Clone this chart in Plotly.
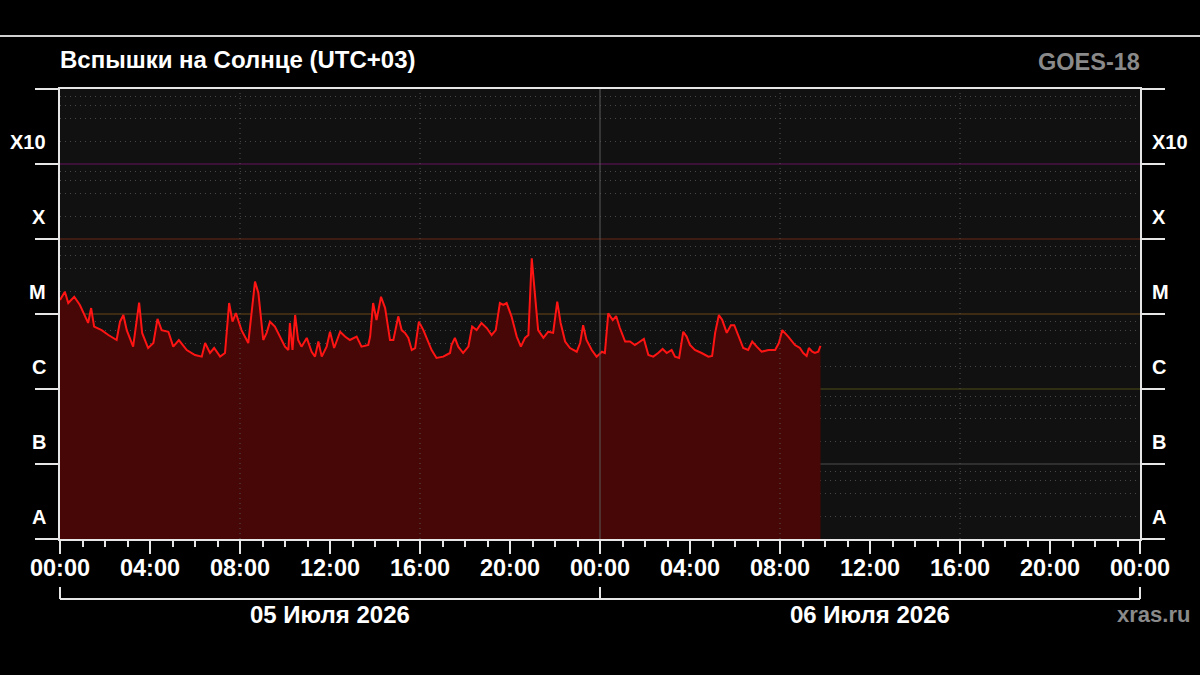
import plotly.graph_objects as go
import pandas as pd

# ---------------- data ----------------
DAY1 = "2026-07-05"
DAY2 = "2026-07-06"

times_day1 = ["00:00", "00:13", "00:22", "00:38", "00:53", "01:15", "01:23", "01:31", "01:51", "02:09",
              "02:31", "02:40", "02:49", "02:58", "03:15", "03:31", "03:39", "03:55", "04:09", "04:20",
              "04:31", "04:49", "05:02", "05:17", "05:38", "06:00", "06:18", "06:27", "06:40", "06:51",
              "07:07", "07:20", "07:31", "07:40", "07:49", "08:04", "08:22", "08:31", "08:40", "08:49",
              "09:02", "09:11", "09:20", "09:33", "09:47", "10:00", "10:09", "10:13", "10:20", "10:27",
              "10:35", "10:44", "10:58", "11:11", "11:20", "11:29", "11:38", "11:51", "12:00", "12:11",
              "12:27", "12:40", "12:53", "13:11", "13:24", "13:42", "13:47", "13:55", "14:04", "14:16",
              "14:27", "14:40", "14:49", "15:02", "15:11", "15:20", "15:29", "15:38", "15:47", "15:57",
              "16:09", "16:22", "16:31", "16:44", "17:02", "17:20", "17:24", "17:33", "17:42", "17:55",
              "18:09", "18:19", "18:31", "18:44", "18:58", "19:11", "19:22", "19:33", "19:42", "19:51",
              "20:04", "20:18", "20:29", "20:40", "20:49", "20:58", "21:07", "21:15", "21:29", "21:42",
              "21:55", "22:06", "22:15", "22:27", "22:40", "22:58", "23:07", "23:15", "23:24", "23:38",
              "23:51"]
flux_day1 = [1.54e-5, 1.98e-5, 1.40e-5, 1.70e-5, 1.32e-5, 7.6e-6, 1.20e-5, 6.8e-6, 6.1e-6, 5.25e-6,
             4.5e-6, 7.9e-6, 9.7e-6, 6.1e-6, 3.67e-6, 1.42e-5, 5.6e-6, 3.52e-6, 4.1e-6, 8.6e-6,
             6.1e-6, 5.8e-6, 3.67e-6, 4.5e-6, 3.31e-6, 2.84e-6, 2.70e-6, 4.1e-6, 3.02e-6, 3.52e-6,
             2.70e-6, 3.02e-6, 1.40e-5, 7.9e-6, 1.03e-5, 6.1e-6, 4.1e-6, 1.13e-5, 2.70e-5, 1.91e-5,
             4.5e-6, 5.6e-6, 7.9e-6, 6.8e-6, 5.0e-6, 3.67e-6, 3.31e-6, 7.6e-6, 3.31e-6, 9.7e-6,
             4.5e-6, 3.67e-6, 4.8e-6, 3.14e-6, 2.70e-6, 4.3e-6, 2.70e-6, 3.67e-6, 5.8e-6, 3.52e-6,
             5.8e-6, 5.0e-6, 4.5e-6, 5.0e-6, 3.67e-6, 3.86e-6, 5.0e-6, 1.40e-5, 8.3e-6, 1.70e-5,
             1.20e-5, 4.5e-6, 4.5e-6, 9.3e-6, 6.1e-6, 5.6e-6, 4.8e-6, 3.31e-6, 3.52e-6, 7.9e-6,
             6.1e-6, 4.1e-6, 3.31e-6, 2.59e-6, 2.70e-6, 3.02e-6, 3.86e-6, 4.8e-6, 3.67e-6, 3.02e-6,
             3.67e-6, 6.8e-6, 6.1e-6, 7.6e-6, 6.5e-6, 5.25e-6, 6.1e-6, 1.40e-5, 1.32e-5, 1.40e-5,
             9.3e-6, 5.0e-6, 3.67e-6, 4.8e-6, 5.25e-6, 5.53e-5, 1.91e-5, 6.1e-6, 4.8e-6, 5.8e-6,
             5.6e-6, 1.46e-5, 7.6e-6, 4.3e-6, 3.52e-6, 3.14e-6, 4.1e-6, 7.1e-6, 4.5e-6, 3.31e-6,
             2.70e-6]

times_day2 = ["00:05", "00:13", "00:22", "00:34", "00:43", "00:53", "01:07", "01:20", "01:33", "01:47",
              "01:57", "02:09", "02:22", "02:35", "02:47", "02:58", "03:11", "03:20", "03:31", "03:42",
              "03:51", "04:00", "04:13", "04:31", "04:49", "04:59", "05:07", "05:17", "05:26", "05:38",
              "05:49", "05:58", "06:09", "06:22", "06:35", "06:46", "06:58", "07:11", "07:29", "07:47",
              "07:57", "08:06", "08:22", "08:40", "08:53", "09:02", "09:11", "09:17", "09:26", "09:33",
              "09:42", "09:48"]
flux_day2 = [3.14e-6, 3.02e-6, 1.02e-5, 8.3e-6, 9.4e-6, 6.5e-6, 4.3e-6, 4.3e-6, 3.86e-6, 4.3e-6,
             4.65e-6, 2.84e-6, 2.70e-6, 3.02e-6, 3.42e-6, 3.02e-6, 3.31e-6, 2.70e-6, 2.59e-6, 5.8e-6,
             5.0e-6, 3.86e-6, 3.31e-6, 3.02e-6, 2.70e-6, 2.76e-6, 5.6e-6, 9.7e-6, 8.3e-6, 5.6e-6,
             7.1e-6, 7.1e-6, 5.0e-6, 3.52e-6, 3.31e-6, 4.3e-6, 3.67e-6, 3.14e-6, 3.31e-6, 3.31e-6,
             4.1e-6, 6.1e-6, 5.0e-6, 3.86e-6, 3.52e-6, 3.02e-6, 2.76e-6, 3.52e-6, 3.14e-6, 3.02e-6,
             3.14e-6, 3.75e-6]

class_labels = ["A", "B", "C", "M", "X", "X10"]
class_decades = [-8, -7, -6, -5, -4, -3]          # log10 of the lower bound of each class
class_line_colors = ["#3a3a3a", "#3a3a16", "#4c3416", "#4c2016", "#4a1244"]  # at 1e-7 .. 1e-3
date_labels = ["05 Июля 2026", "06 Июля 2026"]
title_text = "Вспышки на Солнце (UTC+03)"
satellite_text = "GOES-18"
source_text = "xras.ru"

# ---------------- figure ----------------
x = [f"{DAY1} {t}" for t in times_day1] + [f"{DAY2} {t}" for t in times_day2]
y = flux_day1 + flux_day2

FONT = "Liberation Sans, Arial, sans-serif"
LINE_COL = "#e6e6e6"
DOT = "1px,4px"

fig = go.Figure()
fig.add_trace(go.Scatter(
    x=x, y=y, mode="lines", fill="tozeroy",
    fillcolor="rgb(72,7,7)",
    line=dict(color="#ff1414", width=2),
    hoverinfo="skip", showlegend=False,
))

x_start = pd.Timestamp(DAY1)
x_end = x_start + pd.Timedelta(days=2)
major = pd.date_range(x_start, x_end, freq="4h")

fig.update_layout(
    width=1200, height=675,
    margin=dict(l=60, r=60, t=89, b=136),
    paper_bgcolor="black", plot_bgcolor="#111111",
    showlegend=False,
    xaxis=dict(
        type="date", range=[x_start, x_end],
        tickvals=list(major), ticktext=[d.strftime("%H:%M") for d in major],
        ticks="outside", ticklen=13, tickwidth=2, tickcolor=LINE_COL,
        ticklabelstandoff=-6,
        tickfont=dict(family=FONT, size=23.5, color="white", weight="bold"),
        minor=dict(dtick=3600000, ticks="outside", ticklen=6, tickwidth=2,
                   tickcolor=LINE_COL, showgrid=False),
        showgrid=False, showline=True, linecolor=LINE_COL, linewidth=2, mirror=True,
        zeroline=False, fixedrange=True,
    ),
    yaxis=dict(
        type="log", range=[-8, -2],
        tickvals=[m * 10.0 ** d for d in class_decades for m in (2, 4, 6, 8)],
        showticklabels=False, ticks="",
        showgrid=True, gridcolor="#474747", griddash=DOT, gridwidth=1,
        showline=True, linecolor=LINE_COL, linewidth=2, mirror=True,
        zeroline=False, fixedrange=True,
    ),
)

ext = 25 / 1080.0   # short outer tick length in paper units
shapes = []
# vertical grid every 8 hours (solid at midnight, dotted otherwise)
for d in pd.date_range(x_start, x_end, freq="8h")[1:-1]:
    if d.hour == 0:
        shapes.append(dict(type="line", xref="x", yref="paper", x0=d, x1=d, y0=0, y1=1,
                           line=dict(color="#5a5a5a", width=1)))
    else:
        shapes.append(dict(type="line", xref="x", yref="paper", x0=d, x1=d, y0=0, y1=1,
                           line=dict(color="#555555", width=1, dash=DOT)))
# class boundary lines
n_dec = len(class_decades)
for i, col in enumerate(class_line_colors, start=1):
    py = i / n_dec
    shapes.append(dict(type="line", xref="paper", yref="paper", x0=0, x1=1, y0=py, y1=py,
                       line=dict(color=col, width=1.5), layer="below"))
# outer tick extensions on both sides
for i in range(0, n_dec + 1):
    py = i / n_dec
    shapes.append(dict(type="line", xref="paper", yref="paper", x0=-ext, x1=0, y0=py, y1=py,
                       line=dict(color=LINE_COL, width=2)))
    shapes.append(dict(type="line", xref="paper", yref="paper", x0=1, x1=1 + ext, y0=py, y1=py,
                       line=dict(color=LINE_COL, width=2)))
# top separator line
shapes.append(dict(type="line", xref="paper", yref="paper", x0=-60 / 1080, x1=1140 / 1080,
                   y0=(539 - 36) / 450, y1=(539 - 36) / 450, line=dict(color="#d0d0d0", width=2)))
# date brackets
yb = (539 - 599) / 450
yb_top = (539 - 587) / 450
shapes.append(dict(type="line", xref="paper", yref="paper", x0=0, x1=1, y0=yb, y1=yb,
                   line=dict(color=LINE_COL, width=2)))
for px in (0, 0.5, 1):
    shapes.append(dict(type="line", xref="paper", yref="paper", x0=px, x1=px, y0=yb, y1=yb_top,
                       line=dict(color=LINE_COL, width=2)))
fig.update_layout(shapes=shapes)

ann = []
for lab, d in zip(class_labels, class_decades):
    py = (d - class_decades[0] + 0.3) / n_dec
    ann.append(dict(text=lab, xref="paper", yref="paper", x=-12 / 1080, y=py,
                    xanchor="right", yanchor="middle", showarrow=False,
                    font=dict(family=FONT, size=20, color="white", weight="bold")))
    ann.append(dict(text=lab, xref="paper", yref="paper", x=1 + 10 / 1080, y=py,
                    xanchor="left", yanchor="middle", showarrow=False,
                    font=dict(family=FONT, size=20, color="white", weight="bold")))
for i, lab in enumerate(date_labels):
    ann.append(dict(text=lab, xref="paper", yref="paper", x=0.25 + 0.5 * i, y=(539 - 614) / 450,
                    xanchor="center", yanchor="middle", showarrow=False,
                    font=dict(family=FONT, size=24, color="white", weight="bold")))
ann.append(dict(text=source_text, xref="paper", yref="paper", x=(1153 - 60) / 1080, y=(539 - 614) / 450,
                xanchor="center", yanchor="middle", showarrow=False,
                font=dict(family=FONT, size=22, color="#8a8a8a", weight="bold")))
ann.append(dict(text=title_text, xref="paper", yref="paper", x=-2 / 1080, y=(539 - 60) / 450,
                xanchor="left", yanchor="middle", showarrow=False,
                font=dict(family=FONT, size=24, color="white", weight="bold")))
ann.append(dict(text=satellite_text, xref="paper", yref="paper", x=1 + 2 / 1080, y=(539 - 62) / 450,
                xanchor="right", yanchor="middle", showarrow=False,
                font=dict(family=FONT, size=23.5, color="#8a8a8a", weight="bold")))
fig.update_layout(annotations=ann)

fig.write_html("out.html", config={"displayModeBar": False})
